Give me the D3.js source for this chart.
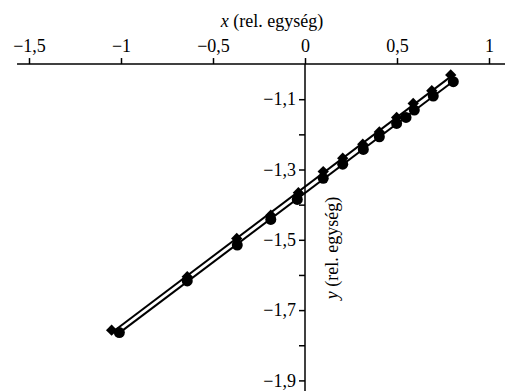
<!DOCTYPE html>
<html lang="hu">
<head>
<meta charset="utf-8">
<title>x–y</title>
<script src="https://d3js.org/d3.v7.min.js"></script>
<style>
  body { margin: 0; padding: 0; background: #fff; overflow: hidden; }
  svg text { font-family: "Liberation Serif", "Times New Roman", serif; }
</style>
</head>
<body>
<svg id="chart"></svg>
<script>
  const width = 505;
  const height = 391;

  // diamonds (upper series)
  const diamondX = [-1.051, -0.640, -0.371, -0.186, -0.036, 0.099, 0.205, 0.314, 0.404, 0.498, 0.588, 0.689, 0.792];
  const diamondY = [-1.757, -1.605, -1.496, -1.430, -1.366, -1.306, -1.268, -1.228, -1.193, -1.152, -1.112, -1.076, -1.031];
  // circles (lower series)
  const circleX = [-1.009, -0.640, -0.368, -0.186, -0.042, 0.099, 0.205, 0.317, 0.404, 0.498, 0.549, 0.594, 0.697, 0.806];
  const circleY = [-1.764, -1.617, -1.515, -1.442, -1.385, -1.325, -1.285, -1.243, -1.207, -1.169, -1.152, -1.131, -1.091, -1.050];

  const xTicks = [-1.5, -1, -0.5, 0, 0.5, 1];
  const yTicks = [-1.1, -1.2, -1.3, -1.4, -1.5, -1.6, -1.7, -1.8, -1.9];
  const yLabelled = [-1.1, -1.3, -1.5, -1.7, -1.9];

  const fmt = v => String(v).replace(".", ",").replace("-", "\u2212");

  const svg = d3.select("#chart").attr("width", width).attr("height", height);

  const x = d3.scaleLinear().domain([-1.5, 1]).range([29, 489]);
  const y = d3.scaleLinear().domain([-1.1, -1.9]).range([99.2, 380.4]);

  const x0 = x(0);
  const yTop = y(-1.0);

  // x axis (on top, ticks pointing up)
  const xAxis = svg.append("g")
    .attr("transform", `translate(0,${yTop})`)
    .call(d3.axisTop(x).tickValues(xTicks).tickSize(6).tickSizeOuter(0).tickFormat(fmt));
  xAxis.attr("font-family", null);
  xAxis.select(".domain").remove();
  xAxis.selectAll(".tick line").attr("stroke", "#000").attr("stroke-width", 1.5);
  xAxis.selectAll(".tick text")
    .attr("font-size", 18)
    .attr("fill", "#000")
    .attr("y", -12);
  svg.append("line")
    .attr("x1", x(-1.565)).attr("x2", width)
    .attr("y1", yTop).attr("y2", yTop)
    .attr("stroke", "#000").attr("stroke-width", 1.5);

  // y axis (through x = 0)
  const yAxis = svg.append("g")
    .attr("transform", `translate(${x0},0)`)
    .call(d3.axisLeft(y).tickValues(yTicks).tickSize(6).tickSizeOuter(0)
      .tickFormat(d => yLabelled.some(v => Math.abs(v - d) < 1e-9) ? fmt(d) : ""));
  yAxis.attr("font-family", null);
  yAxis.select(".domain").remove();
  yAxis.selectAll(".tick line").attr("stroke", "#000").attr("stroke-width", 1.5);
  yAxis.selectAll(".tick text")
    .attr("font-size", 18)
    .attr("fill", "#000")
    .attr("x", -9);
  svg.append("line")
    .attr("x1", x0).attr("x2", x0)
    .attr("y1", yTop).attr("y2", height)
    .attr("stroke", "#000").attr("stroke-width", 1.5);

  // axis titles
  const xTitle = svg.append("text")
    .attr("x", 272).attr("y", 27)
    .attr("text-anchor", "middle")
    .attr("font-size", 18)
    .attr("fill", "#000");
  xTitle.append("tspan").attr("font-style", "italic").text("x");
  xTitle.append("tspan").text(" (rel. egység)");

  const yTitle = svg.append("text")
    .attr("transform", `translate(338,248) rotate(-90)`)
    .attr("text-anchor", "middle")
    .attr("font-size", 18)
    .attr("fill", "#000");
  yTitle.append("tspan").attr("font-style", "italic").text("y");
  yTitle.append("tspan").text(" (rel. egység)");

  // least squares fit lines
  function fit(xs, ys) {
    const mx = d3.mean(xs), my = d3.mean(ys);
    let sxy = 0, sxx = 0;
    xs.forEach((v, i) => { sxy += (v - mx) * (ys[i] - my); sxx += (v - mx) * (v - mx); });
    const b = sxy / sxx;
    const a = my - b * mx;
    const [lo, hi] = d3.extent(xs);
    return [[lo, a + b * lo], [hi, a + b * hi]];
  }

  const line = d3.line().x(d => x(d[0])).y(d => y(d[1]));

  svg.append("path")
    .attr("d", line(fit(diamondX, diamondY)))
    .attr("fill", "none").attr("stroke", "#000").attr("stroke-width", 2);
  svg.append("path")
    .attr("d", line(fit(circleX, circleY)))
    .attr("fill", "none").attr("stroke", "#000").attr("stroke-width", 2);

  // markers
  const diamond = d3.symbol().type(d3.symbolSquare).size(64);
  svg.append("g")
    .selectAll("path")
    .data(diamondX.map((v, i) => [v, diamondY[i]]))
    .join("path")
    .attr("d", diamond)
    .attr("transform", d => `translate(${x(d[0])},${y(d[1])}) rotate(45)`)
    .attr("fill", "#000");

  svg.append("g")
    .selectAll("circle")
    .data(circleX.map((v, i) => [v, circleY[i]]))
    .join("circle")
    .attr("cx", d => x(d[0]))
    .attr("cy", d => y(d[1]))
    .attr("r", 5.5)
    .attr("fill", "#000");
</script>
</body>
</html>
